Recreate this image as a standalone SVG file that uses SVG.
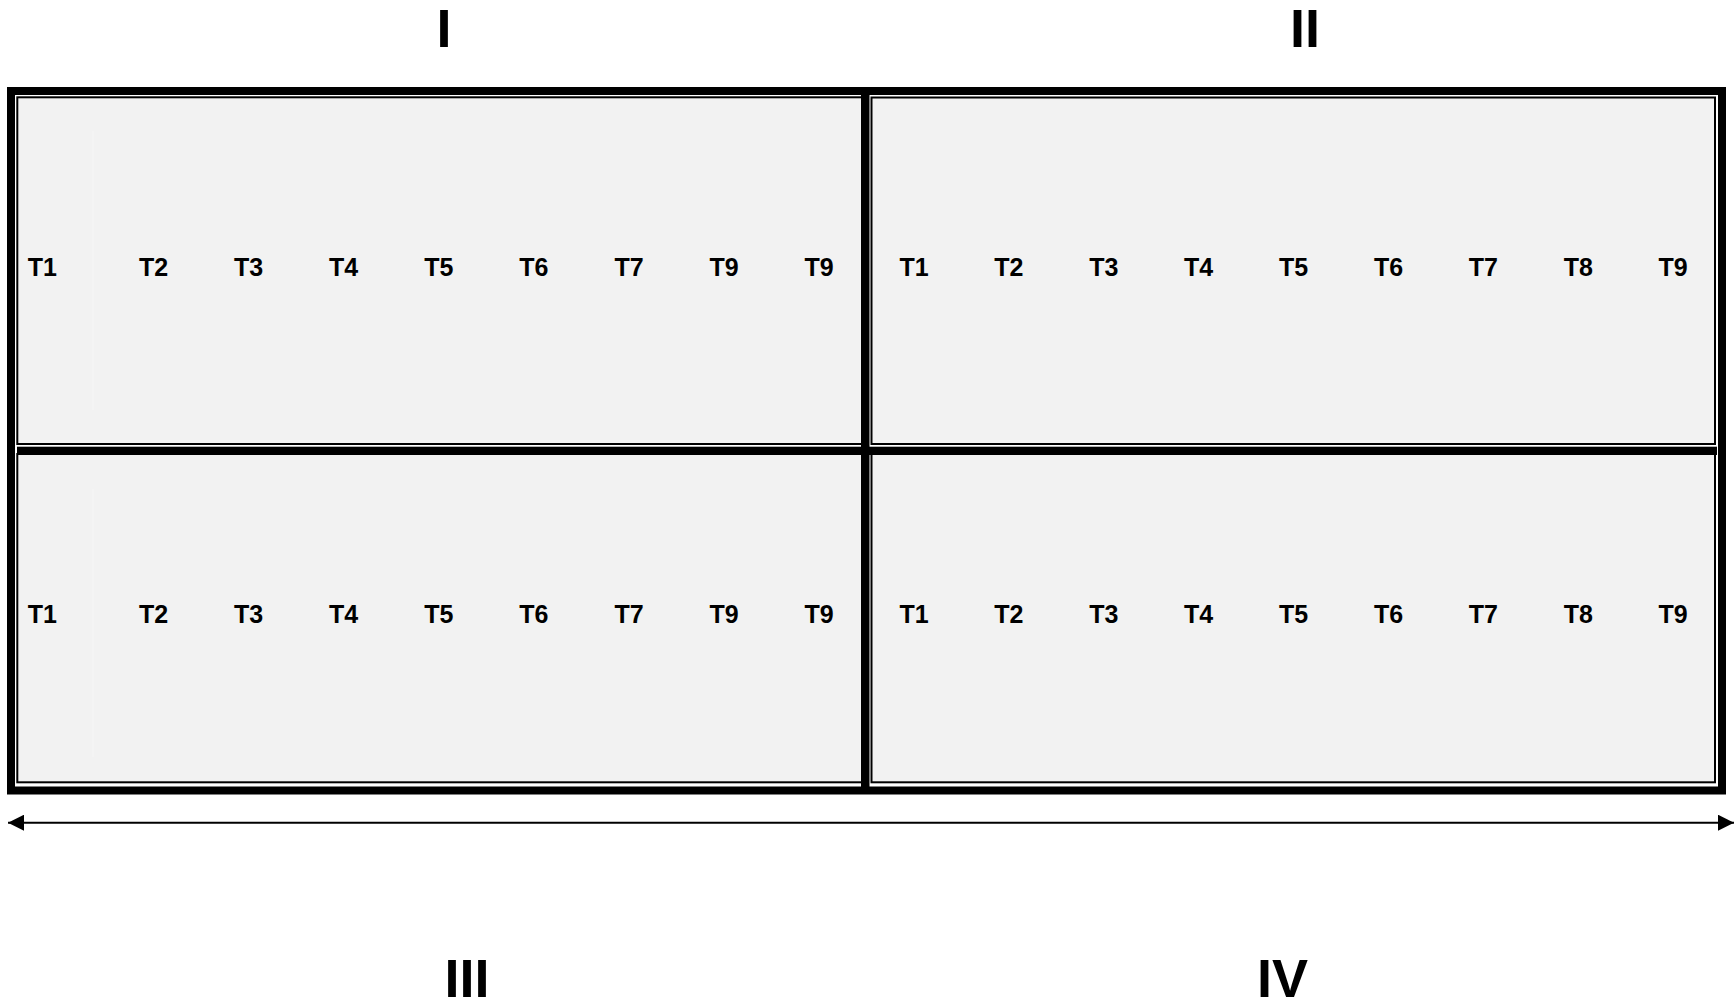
<svg xmlns="http://www.w3.org/2000/svg" width="1735" height="1005" viewBox="0 0 1735 1005">
<style>
.cell{fill:#f2f2f2;stroke:#000;stroke-width:2}
.bar{fill:#000}
.t{font-family:"Liberation Sans",Arial,sans-serif;font-weight:bold;font-size:25px;text-anchor:middle;fill:#000}
.r{font-family:"Liberation Sans",Arial,sans-serif;font-weight:bold;font-size:54px;text-anchor:middle;fill:#000}
.faint{stroke:#f5f5f5;stroke-width:1.5}
</style>
<defs>
<marker id="ah" viewBox="0 0 16 16" refX="16" refY="8" markerWidth="16" markerHeight="16" markerUnits="userSpaceOnUse" orient="auto-start-reverse">
<path d="M0,0 L16,8 L0,16 z" fill="#000"/>
</marker>
</defs>
<rect x="0" y="0" width="1735" height="1005" fill="#fff"/>
<g id="frame">
<rect x="11" y="91" width="1711" height="699.5" fill="#fff" stroke="#000" stroke-width="8"/>
</g>
<g id="panel-I">
<rect class="cell" x="17.3" y="97.3" width="844.7" height="346.7"/>
<line class="faint" x1="93" y1="131" x2="93" y2="410"/>
<text class="t" x="42.3" y="276">T1</text>
<text class="t" x="153.5" y="276">T2</text>
<text class="t" x="248.6" y="276">T3</text>
<text class="t" x="343.7" y="276">T4</text>
<text class="t" x="438.8" y="276">T5</text>
<text class="t" x="533.9" y="276">T6</text>
<text class="t" x="629" y="276">T7</text>
<text class="t" x="724.1" y="276">T9</text>
<text class="t" x="819.2" y="276">T9</text>
</g>
<g id="panel-II">
<rect class="cell" x="871.5" y="97.5" width="843.5" height="346.5"/>
<text class="t" x="914" y="276">T1</text>
<text class="t" x="1008.9" y="276">T2</text>
<text class="t" x="1103.8" y="276">T3</text>
<text class="t" x="1198.7" y="276">T4</text>
<text class="t" x="1293.6" y="276">T5</text>
<text class="t" x="1388.5" y="276">T6</text>
<text class="t" x="1483.4" y="276">T7</text>
<text class="t" x="1578.3" y="276">T8</text>
<text class="t" x="1673.2" y="276">T9</text>
</g>
<g id="panel-III">
<rect class="cell" x="17.3" y="454" width="844.7" height="328.3"/>
<line class="faint" x1="93" y1="489" x2="93" y2="757"/>
<text class="t" x="42.3" y="623">T1</text>
<text class="t" x="153.5" y="623">T2</text>
<text class="t" x="248.6" y="623">T3</text>
<text class="t" x="343.7" y="623">T4</text>
<text class="t" x="438.8" y="623">T5</text>
<text class="t" x="533.9" y="623">T6</text>
<text class="t" x="629" y="623">T7</text>
<text class="t" x="724.1" y="623">T9</text>
<text class="t" x="819.2" y="623">T9</text>
</g>
<g id="panel-IV">
<rect class="cell" x="871.5" y="454" width="843.5" height="328.3"/>
<text class="t" x="914" y="623">T1</text>
<text class="t" x="1008.9" y="623">T2</text>
<text class="t" x="1103.8" y="623">T3</text>
<text class="t" x="1198.7" y="623">T4</text>
<text class="t" x="1293.6" y="623">T5</text>
<text class="t" x="1388.5" y="623">T6</text>
<text class="t" x="1483.4" y="623">T7</text>
<text class="t" x="1578.3" y="623">T8</text>
<text class="t" x="1673.2" y="623">T9</text>
</g>
<g id="dividers">
<rect class="bar" x="861" y="94" width="8.5" height="693"/>
<rect class="bar" x="17" y="446.7" width="1700" height="8.3"/>
</g>
<g id="connectors">
<line x1="8" y1="822.7" x2="1734" y2="822.7" stroke="#000" stroke-width="2" marker-start="url(#ah)" marker-end="url(#ah)"/>
</g>
<g id="labels">
<text class="r" x="444" y="47">I</text>
<text class="r" x="1305" y="47">II</text>
<text class="r" x="467" y="997">III</text>
<text class="r" x="1282.5" y="997">IV</text>
</g>
</svg>
